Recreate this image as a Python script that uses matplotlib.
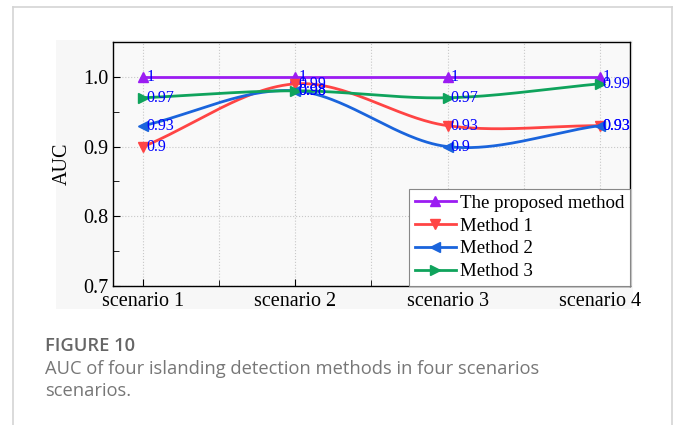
import numpy as np
import matplotlib
matplotlib.use("Agg")
import matplotlib.pyplot as plt
from matplotlib.lines import Line2D
from matplotlib.patches import Rectangle
from matplotlib.ticker import MultipleLocator

scenarios = ["scenario 1", "scenario 2", "scenario 3", "scenario 4"]
proposed = [1.0, 1.0, 1.0, 1.0]
method1 = [0.90, 0.99, 0.93, 0.93]
method2 = [0.93, 0.98, 0.90, 0.93]
method3 = [0.97, 0.98, 0.97, 0.99]

series = [
    ("The proposed method", proposed, "#9b1cf2", "^"),
    ("Method 1", method1, "#ff4444", "v"),
    ("Method 2", method2, "#1a64dc", "<"),
    ("Method 3", method3, "#0fa35c", ">"),
]


def smooth_curve(x, y, n=60):
    # Catmull-Rom style cubic hermite through the points
    x = np.asarray(x, float)
    y = np.asarray(y, float)
    k = len(x)
    m = np.zeros(k)
    m[0] = (y[1] - y[0]) / (x[1] - x[0])
    m[-1] = (y[-1] - y[-2]) / (x[-1] - x[-2])
    for i in range(1, k - 1):
        m[i] = (y[i + 1] - y[i - 1]) / (x[i + 1] - x[i - 1])
    xs_all, ys_all = [], []
    for i in range(k - 1):
        h = x[i + 1] - x[i]
        t = np.linspace(0, 1, n)
        h00 = 2 * t ** 3 - 3 * t ** 2 + 1
        h10 = t ** 3 - 2 * t ** 2 + t
        h01 = -2 * t ** 3 + 3 * t ** 2
        h11 = t ** 3 - t ** 2
        xs_all.append(x[i] + t * h)
        ys_all.append(h00 * y[i] + h10 * h * m[i] + h01 * y[i + 1] + h11 * h * m[i + 1])
    return np.concatenate(xs_all), np.concatenate(ys_all)


plt.rcParams["font.family"] = ["Liberation Serif", "DejaVu Serif"]

fig = plt.figure(figsize=(6.77, 4.25), dpi=100)
W, H = 677, 425

# card border and grey image background
border = dict(transform=fig.transFigure, color="#d4d4d4", lw=1.2)
fig.add_artist(Line2D([13 / W, 13 / W], [0, 1 - 7 / H], **border))
fig.add_artist(Line2D([13 / W, 672 / W], [1 - 7 / H, 1 - 7 / H], **border))
fig.add_artist(Line2D([672 / W, 672 / W], [0, 1 - 7 / H], **border))
fig.add_artist(Rectangle((56 / W, 1 - 309 / H), 577 / W, 269 / H, transform=fig.transFigure,
                         facecolor="#f7f7f7", edgecolor="none", zorder=0))

ax = fig.add_axes([113 / W, 1 - 286 / H, 517 / W, 244 / H])
ax.set_facecolor("#f9f9f9")

x = np.arange(1, len(scenarios) + 1)
for name, vals, col, mk in series:
    xs, ys = smooth_curve(x, vals)
    ax.plot(xs, ys, color=col, lw=2, zorder=3)
    ax.plot(x, vals, linestyle="none", marker=mk, color=col, ms=7.5, zorder=4)
    ax.plot([], [], color=col, lw=2, marker=mk, ms=7.5, label=name)
    for xv, yv in zip(x, vals):
        ax.text(xv + 0.02, yv, f"{yv:g}", color="#0000ff", fontsize=11.5,
                ha="left", va="center", zorder=5)

ax.set_xlim(0.8, 4.2)
ax.set_ylim(0.7, 1.05)
ax.set_xticks(x)
ax.set_xticklabels(scenarios)
ax.xaxis.set_minor_locator(MultipleLocator(0.5))
ax.yaxis.set_major_locator(MultipleLocator(0.1))
ax.yaxis.set_minor_locator(MultipleLocator(0.05))
ax.yaxis.set_major_formatter(matplotlib.ticker.FormatStrFormatter("%.1f"))
ax.tick_params(which="both", direction="in", labelsize=14.5, top=False, right=False)
ax.tick_params(which="major", length=5)
ax.tick_params(which="minor", length=4)
ax.tick_params(axis="x", pad=4)
ax.grid(True, which="major", color="#c8c8c8", ls=":", lw=0.8)
ax.grid(True, which="minor", axis="x", color="#c8c8c8", ls=":", lw=0.8)
ax.set_ylabel("AUC", fontsize=14.5, labelpad=8)
for sp in ax.spines.values():
    sp.set_linewidth(1)

leg = ax.legend(loc="lower right", fontsize=13.6, frameon=True, fancybox=False,
                edgecolor="#888888", framealpha=1, borderaxespad=0,
                handlelength=2.2, handletextpad=0.2, labelspacing=0.3,
                borderpad=0.3)
leg.get_frame().set_linewidth(0.8)

cap_font = ["Open Sans", "DejaVu Sans"]
fig.text(45 / W, 1 - 346 / H, "FIGURE 10", fontsize=13.2, color="#666666",
         family=cap_font, fontweight="semibold", va="center")
fig.text(45 / W, 1 - 369 / H, "AUC of four islanding detection methods in four scenarios",
         fontsize=13.2, color="#777777", family=cap_font, va="center")
fig.text(45 / W, 1 - 391 / H, "scenarios.", fontsize=13.2, color="#777777",
         family=cap_font, va="center")

fig.savefig("out.png", dpi=100)
